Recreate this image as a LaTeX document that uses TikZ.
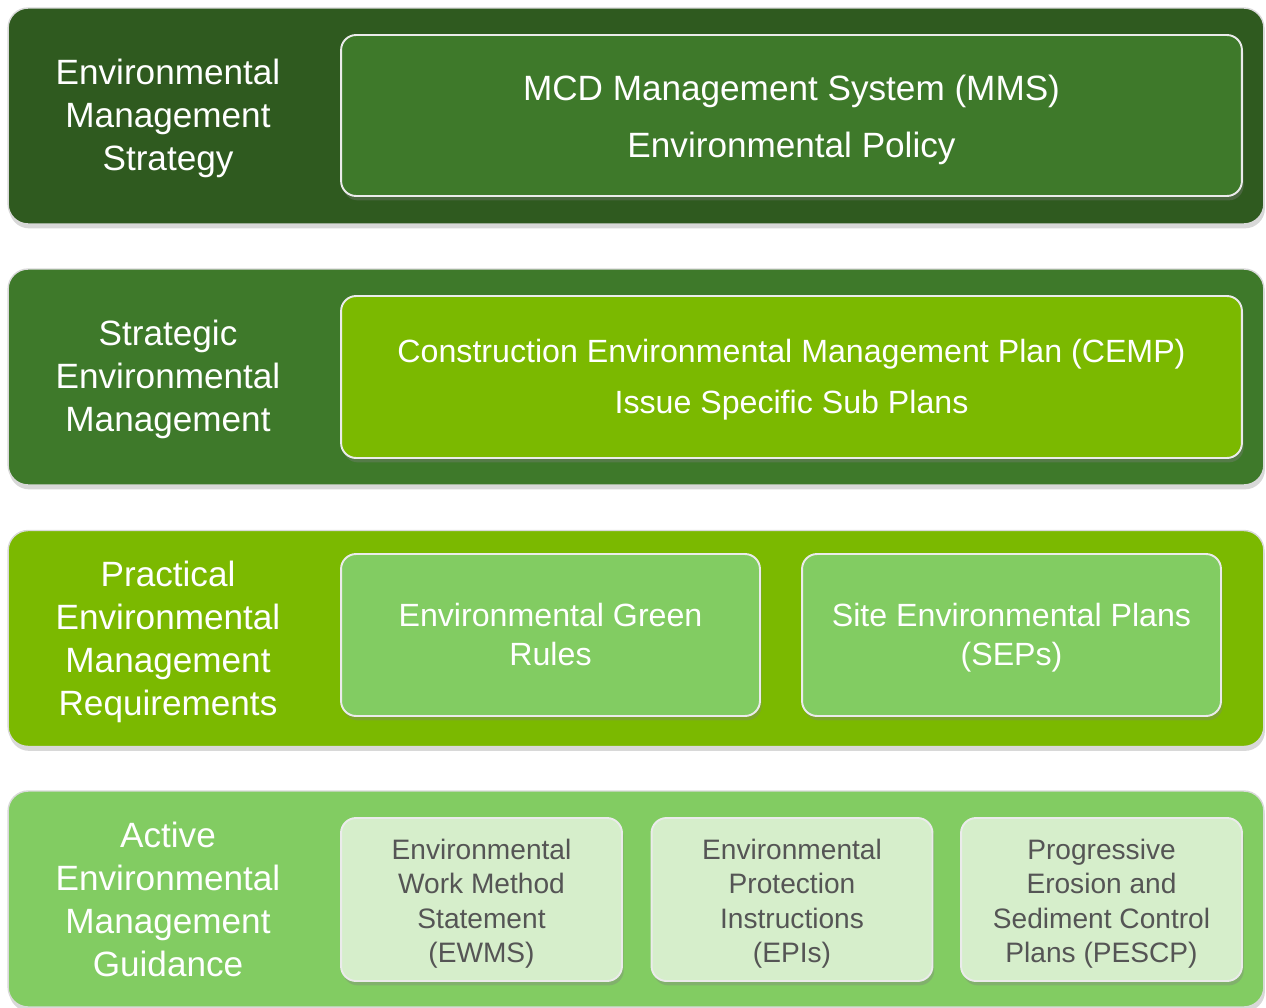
\documentclass[tikz,border=0pt]{standalone}
\usepackage{fontspec}
\setmainfont{Liberation Sans}
\usetikzlibrary{shadows}

\definecolor{pine}{RGB}{47,90,31}
\definecolor{fern}{RGB}{62,121,42}
\definecolor{lime}{RGB}{123,185,0}
\definecolor{leaf}{RGB}{130,204,98}
\definecolor{mint}{RGB}{214,238,203}
\definecolor{slate}{RGB}{85,85,85}

\tikzset{
	tier/.style={draw=white!85!black, line width=0.8pt, rounded corners=0.4cm,
		minimum width=25.12cm, minimum height=4.32cm,
		drop shadow={opacity=0.3, shadow xshift=0.6pt, shadow yshift=-2.5pt}},
	tierlabel/.style={text=white, align=center, font=\fontsize{20}{24.5}\selectfont},
	plan/.style={draw=white!92!black, line width=1.1pt, rounded corners=0.3cm,
		drop shadow={opacity=0.35, shadow xshift=1pt, shadow yshift=-2.5pt}},
	plantext/.style={text=white, align=center},
	guide/.style={plan, fill=mint, minimum width=5.62cm, minimum height=3.26cm},
	guidetext/.style={text=slate, align=center, font=\fontsize{16}{19.6}\selectfont, yshift=-2.3pt},
}

\begin{document}
\begin{tikzpicture}[x=0.02cm, y=-0.02cm]
	\useasboundingbox[fill=white] (0,0) rectangle (1266,1007);

	% the four tiers
	\node[tier, fill=pine] 	(strategy) 	at (636,116) 	{};
	\node[tier, fill=fern] 	(strategic) at (636,377) 	{};
	\node[tier, fill=lime] 	(practical) at (636,638.5) 	{};
	\node[tier, fill=leaf] 	(active) 	at (636,899) 	{};

	\node[tierlabel] (strategyLbl) 	at (168,118) 	{Environmental\\Management\\Strategy};
	\node[tierlabel] (strategicLbl) at (168,379) 	{Strategic\\Environmental\\Management};
	\node[tierlabel] (practicalLbl) at (168,641.5) 	{Practical\\Environmental\\Management\\Requirements};
	\node[tierlabel] (activeLbl) 	at (168,899.5) 	{Active\\Environmental\\Management\\Guidance};

	% documents per tier
	\node[plan, fill=fern, minimum width=18.02cm, minimum height=3.22cm] (mms) at (791.5,115.5) {};
	\node[plantext, font=\fontsize{20}{32.5}\selectfont, yshift=-2.5pt] (mmsTxt) at (mms)
		{MCD Management System (MMS)\\Environmental Policy};

	\node[plan, fill=lime, minimum width=18.02cm, minimum height=3.24cm] (cemp) at (791.5,377) {};
	\node[plantext, font=\fontsize{18.3}{29}\selectfont, yshift=-1.7pt] (cempTxt) at (cemp)
		{Construction Environmental Management Plan (CEMP)\\Issue Specific Sub Plans};

	\node[plan, fill=leaf, minimum width=8.38cm, minimum height=3.24cm] (rules) at (550.5,635) {};
	\node[plantext, font=\fontsize{18.3}{22}\selectfont, yshift=-2.8pt] (rulesTxt) at (rules)
		{Environmental Green\\Rules\strut};
	\node[plan, fill=leaf, minimum width=8.38cm, minimum height=3.24cm] (seps) at (1011.5,635) {};
	\node[plantext, font=\fontsize{18.3}{22}\selectfont, yshift=-2.8pt] (sepsTxt) at (seps)
		{Site Environmental Plans\\(SEPs)\strut};

	\node[guide] (ewms) 	at (481.5,899.5) 	{};
	\node[guide] (epis) 	at (792,899.5) 		{};
	\node[guide] (pescp) 	at (1101.5,899.5) 	{};
	\node[guidetext] (ewmsTxt) 	at (ewms) 	{Environmental\\Work Method\\Statement\\(EWMS)};
	\node[guidetext] (episTxt) 	at (epis) 	{Environmental\\Protection\\Instructions\\(EPIs)};
	\node[guidetext] (pescpTxt) at (pescp) 	{Progressive\\Erosion and\\Sediment Control\\Plans (PESCP)};
\end{tikzpicture}
\end{document}
